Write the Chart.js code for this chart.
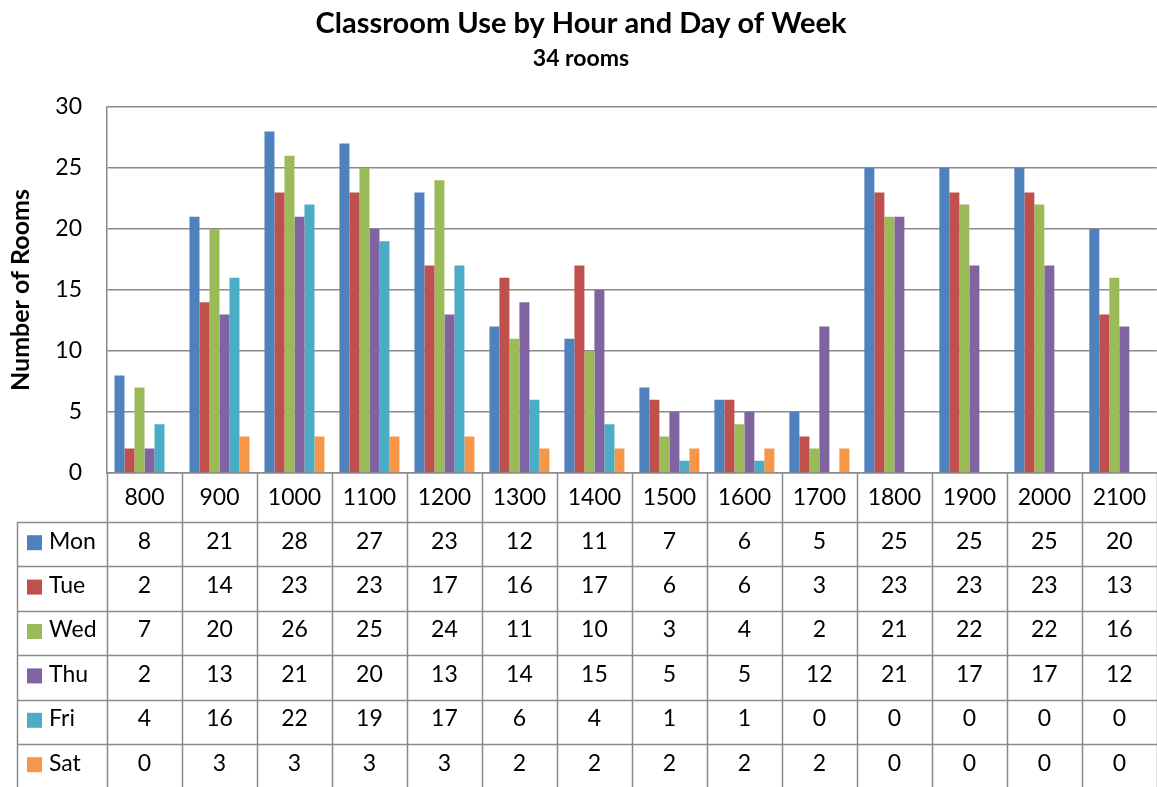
<!DOCTYPE html>
<html>
<head>
<meta charset="utf-8">
<script src="https://cdn.jsdelivr.net/npm/chart.js@4.4.1/dist/chart.umd.min.js"></script>
<style>
  html, body { margin: 0; padding: 0; background: #fff; }
  #wrap { width: 1157px; height: 787px; position: relative; }
</style>
</head>
<body>
<div id="wrap"><canvas id="roomsChart"></canvas></div>
<script>
// hours (categories) and rooms in use per weekday
const hours = ['800', '900', '1000', '1100', '1200', '1300', '1400', '1500', '1600', '1700', '1800', '1900', '2000', '2100'];
const days = ['Mon', 'Tue', 'Wed', 'Thu', 'Fri', 'Sat'];
const mon = [8, 21, 28, 27, 23, 12, 11, 7, 6, 5, 25, 25, 25, 20];
const tue = [2, 14, 23, 23, 17, 16, 17, 6, 6, 3, 23, 23, 23, 13];
const wed = [7, 20, 26, 25, 24, 11, 10, 3, 4, 2, 21, 22, 22, 16];
const thu = [2, 13, 21, 20, 13, 14, 15, 5, 5, 12, 21, 17, 17, 12];
const fri = [4, 16, 22, 19, 17, 6, 4, 1, 1, 0, 0, 0, 0, 0];
const sat = [0, 3, 3, 3, 3, 2, 2, 2, 2, 2, 0, 0, 0, 0];
const yTicks = [0, 5, 10, 15, 20, 25, 30];

const colors = ['#4F81BD', '#C0504D', '#9BBB59', '#8064A2', '#4BACC6', '#F79646'];
const FONT = 'Lato, "Open Sans", sans-serif';
const LINE = '#8a8a8a';

// Titulo y tabla de datos debajo del grafico
const tablePlugin = {
    id: 'dataTable',
    afterDraw(chart) {
        const ctx = chart.ctx;
        const x = chart.scales.x;
        const area = chart.chartArea;
        const step = x.getPixelForValue(1) - x.getPixelForValue(0);
        const left = area.left;
        const right = x.getPixelForValue(hours.length - 1) + step / 2;
        const headBottom = area.bottom + 49;
        const rowH = 44.4;
        const legendLeft = 17;
        const bottom = chart.height;

        ctx.save();
        // titles
        ctx.fillStyle = '#000';
        ctx.textAlign = 'center';
        ctx.textBaseline = 'alphabetic';
        ctx.font = 'bold 29px ' + FONT;
        ctx.fillText('Classroom Use by Hour and Day of Week', 581, 33);
        ctx.font = 'bold 23px ' + FONT;
        ctx.fillText('34 rooms', 581, 66);

        // grid of the table
        ctx.strokeStyle = LINE;
        ctx.lineWidth = 1.5;
        ctx.beginPath();
        for (let i = 0; i <= hours.length; i++) {
            const px = Math.round(left + i * step) + 0.5;
            ctx.moveTo(px, area.bottom);
            ctx.lineTo(px, bottom);
        }
        ctx.moveTo(legendLeft + 0.5, headBottom);
        ctx.lineTo(legendLeft + 0.5, bottom);
        for (let r = 0; r <= days.length; r++) {
            const py = Math.round(headBottom + r * rowH) + 0.5;
            ctx.moveTo(legendLeft, py);
            ctx.lineTo(right, py);
        }
        ctx.stroke();

        // rows
        ctx.font = '23px ' + FONT;
        ctx.textBaseline = 'middle';
        chart.data.datasets.forEach((ds, r) => {
            const cy = headBottom + r * rowH + rowH / 2 - 3;
            ctx.fillStyle = ds.backgroundColor;
            ctx.fillRect(27, cy - 6, 15, 15);
            ctx.fillStyle = '#000';
            ctx.textAlign = 'left';
            ctx.fillText(ds.label, 49, cy);
            ctx.textAlign = 'center';
            ds.data.forEach((v, i) => {
                ctx.fillText(String(v), x.getPixelForValue(i), cy);
            });
        });
        ctx.restore();
    }
};

const series = [mon, tue, wed, thu, fri, sat];

const ctx = document.getElementById('roomsChart').getContext('2d');
const chart = new Chart(ctx, {
    type: 'bar',
    data: {
        labels: hours,
        datasets: days.map((d, i) => ({
            label: d,
            data: series[i],
            backgroundColor: colors[i],
            borderWidth: 0,
            categoryPercentage: 0.8,
            barPercentage: 1.0
        }))
    },
    options: {
        responsive: true,
        maintainAspectRatio: false,
        animation: false,
        layout: { padding: { top: 107, right: 0, bottom: 0, left: 0 } },
        plugins: {
            legend: { display: false },
            title: { display: false },
            tooltip: { enabled: false }
        },
        scales: {
            x: {
                grid: { display: false, drawTicks: false },
                border: { display: true, color: LINE, width: 1.5 },
                ticks: { color: '#000', font: { family: FONT, size: 23 }, padding: 11, maxRotation: 0 },
                afterFit(axis) { axis.height = 314; }
            },
            y: {
                min: 0,
                max: 30,
                afterBuildTicks(axis) { axis.ticks = yTicks.map(v => ({ value: v })); },
                grid: { color: LINE, lineWidth: 1.5, drawTicks: false },
                border: { display: true, color: LINE, width: 1.5 },
                ticks: { color: '#000', font: { family: FONT, size: 23 }, padding: 25 },
                title: {
                    display: true,
                    text: 'Number of Rooms',
                    color: '#000',
                    font: { family: FONT, size: 25, weight: 'bold' },
                    padding: { top: 6, bottom: 0 }
                },
                afterFit(axis) { axis.width = 107; }
            }
        }
    },
    plugins: [tablePlugin]
});
</script>
</body>
</html>
